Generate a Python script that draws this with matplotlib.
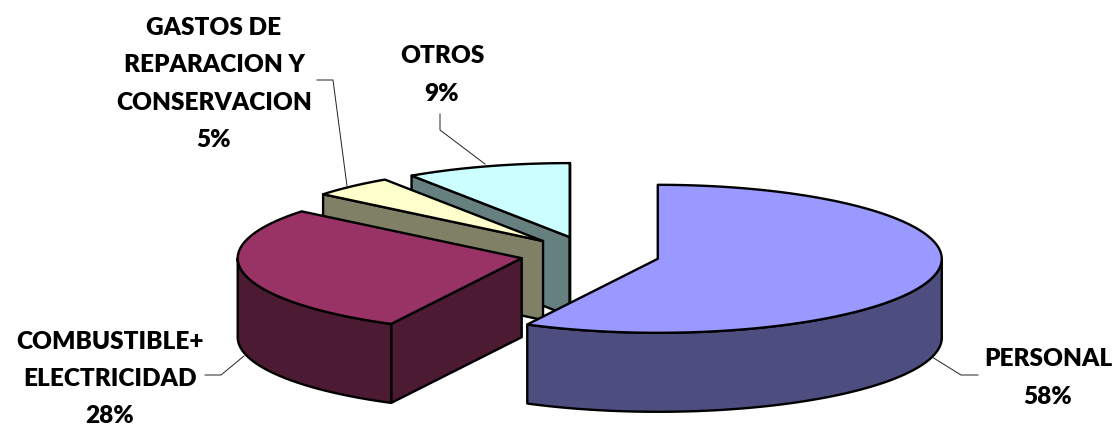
import numpy as np
import matplotlib
matplotlib.use("Agg")
import matplotlib.pyplot as plt
from matplotlib.patches import Polygon

categories = ["PERSONAL", "COMBUSTIBLE+\nELECTRICIDAD", "GASTOS DE\nREPARACION Y\nCONSERVACION", "OTROS"]
values = [57.6, 28.3, 4.7, 9.4]
top_colors = ["#9999FF", "#993366", "#FFFFCC", "#CCFFFF"]
side_colors = ["#4D4D80", "#4D1A33", "#808066", "#668080"]
label_pos = [(1048, 378), (110, 379), (214, 84), (442, 75)]
leaders = [
    [(978, 376), (961, 376), (932, 358)],
    [(205, 376), (221, 376), (244, 357)],
    [(317, 81), (333, 81), (347, 187)],
    [(440, 115), (440, 131), (485, 165)],
]
CX, CY, RX, RY, DEPTH, EXPLODE = 590, 255.5, 284, 74, 79, 0.2456
LW = 1.7

fig = plt.figure(figsize=(11.18, 4.27), dpi=100)
ax = fig.add_axes([0, 0, 1, 1])
ax.set_xlim(0, 1118)
ax.set_ylim(427, 0)
ax.axis("off")


def point(c, a):
    a = np.radians(a)
    return np.column_stack([c[0] + RX * np.sin(a), c[1] - RY * np.cos(a)])


def poly(xy, color, z):
    ax.add_patch(Polygon(xy, closed=True, facecolor=color, edgecolor="black",
                         linewidth=LW, joinstyle="round", zorder=z))


def slice3d(i, a0, a1, z):
    mid = (a0 + a1) / 2
    apex = np.array(point((CX, CY), [mid]))[0]
    apex = np.array([CX + (apex[0] - CX) * EXPLODE, CY + (apex[1] - CY) * EXPLODE])
    down = np.array([0, DEPTH])
    arc = point(apex, np.linspace(a0, a1, 120))
    # cut wall on the start side, if it faces the viewer
    if 180 < a0 < 360:
        start = arc[0]
        poly([apex, start, start + down, apex + down], side_colors[i], z)
    # cut wall on the end side, if it faces the viewer
    if 0 < a1 < 180 or 360 < a1:
        end = arc[-1]
        poly([apex, end, end + down, apex + down], side_colors[i], z)
    # outer wall: the front half of the ellipse only
    lo, hi = max(a0, 90), min(a1, 270)
    if lo < hi:
        w = point(apex, np.linspace(lo, hi, 120))
        poly(np.vstack([w, (w + down)[::-1]]), side_colors[i], z)
    poly(np.vstack([[apex], arc]), top_colors[i], z + 0.5)


angles = np.concatenate([[0], np.cumsum(values)]) * 3.6
for i, z in zip([3, 2, 0, 1], [1, 2, 3, 4]):
    slice3d(i, angles[i], angles[i + 1], z)

total = sum(values)
for cat, v, (x, y), ld in zip(categories, values, label_pos, leaders):
    ax.text(x, y, f"{cat}\n{v / total * 100:.0f}%", ha="center", va="center",
            family="Lato", weight="heavy", fontsize=17.6, linespacing=1.86,
            color="black", zorder=10)
    ax.plot(*zip(*ld), color="#222222", lw=0.7, zorder=9)

fig.savefig("out.png", dpi=100, facecolor="white")
